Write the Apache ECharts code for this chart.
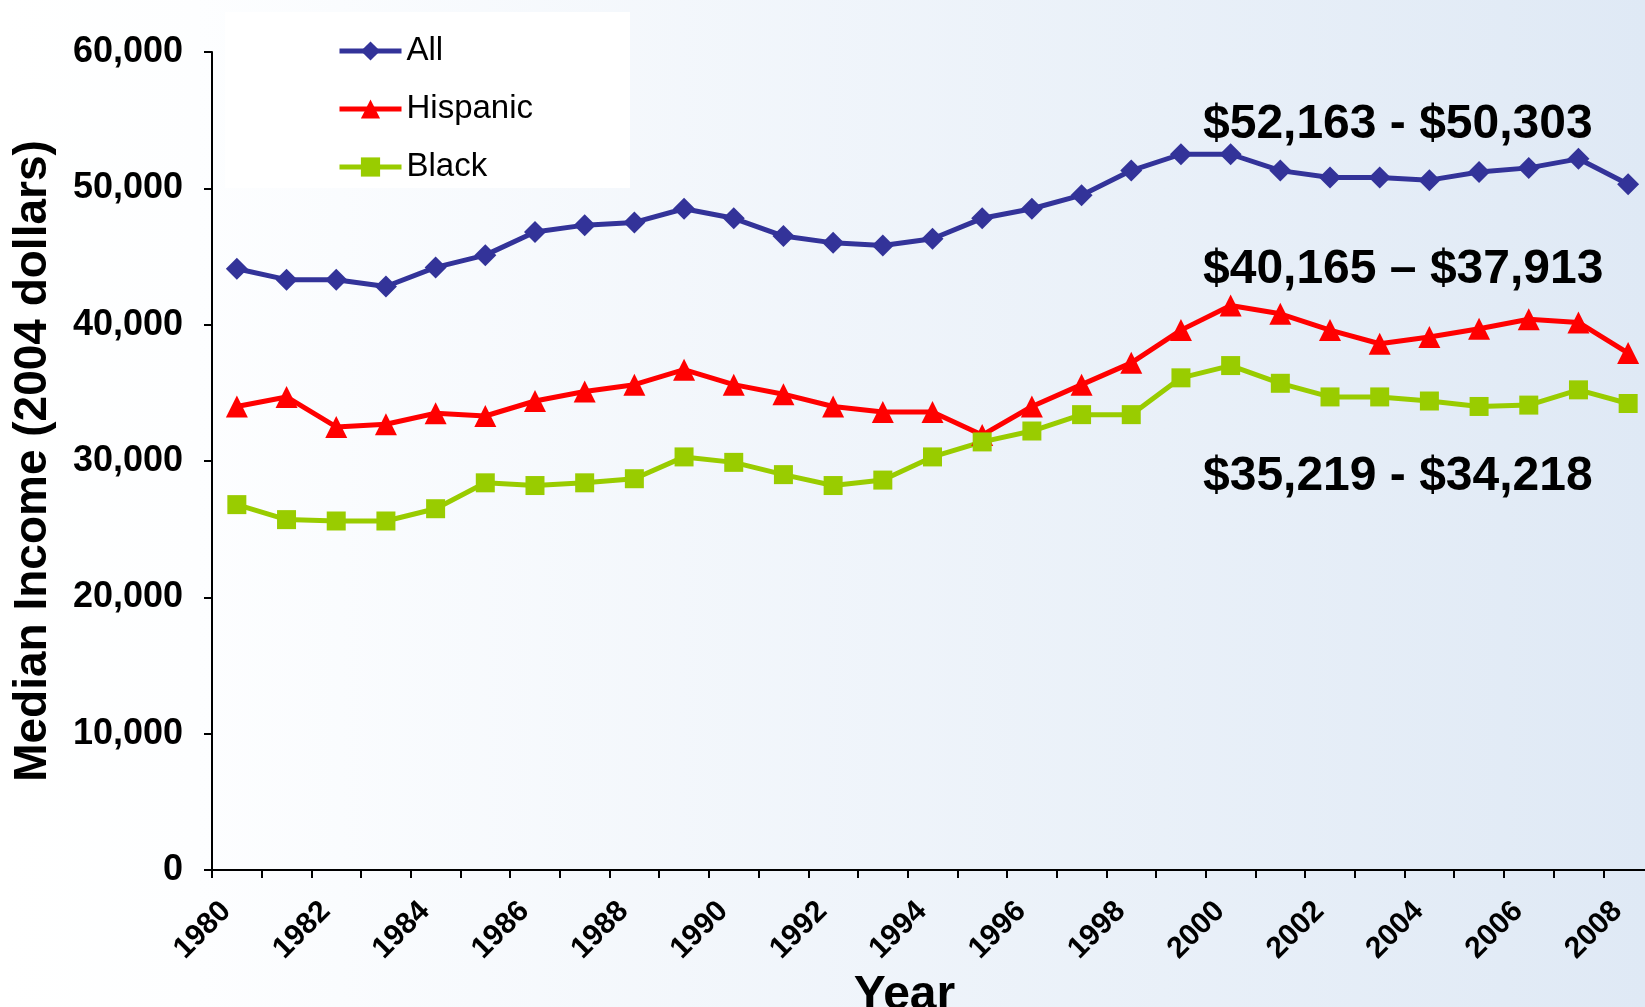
<!DOCTYPE html>
<html>
<head>
<meta charset="utf-8">
<script src="https://cdn.jsdelivr.net/npm/echarts@6/dist/echarts.min.js"></script>
<style>
  html, body { margin: 0; padding: 0; }
  #chart { width: 1645px; height: 1007px; }
</style>
</head>
<body>
<div id="chart"></div>
<script>
// years on the x axis
const years = []
for (let y = 1980; y <= 2008; y++) years.push(String(y))

// median income, 2004 dollars
const allIncome = [44100, 43300, 43300, 42800, 44200, 45100, 46800, 47300, 47500, 48500,
  47800, 46500, 46000, 45800, 46300, 47800, 48500, 49500, 51300, 52500,
  52500, 51300, 50800, 50800, 50600, 51200, 51500, 52163, 50303]
const hispanicIncome = [34000, 34700, 32500, 32700, 33500, 33300, 34400, 35100, 35600, 36700,
  35600, 34900, 34000, 33600, 33600, 31900, 34000, 35600, 37200, 39600,
  41400, 40800, 39600, 38600, 39100, 39700, 40400, 40165, 37913]
const blackIncome = [26800, 25700, 25600, 25600, 26500, 28400, 28200, 28400, 28700, 30300,
  29900, 29000, 28200, 28600, 30300, 31400, 32200, 33400, 33400, 36100,
  37000, 35700, 34700, 34700, 34400, 34000, 34100, 35219, 34218]

// text notes on the right
const notes = ['$52,163 - $50,303', '$40,165 \u2013 $37,913', '$35,219 - $34,218']

const font = '"Liberation Sans", Arial, sans-serif'

const myChart = echarts.init(document.getElementById('chart'))

function lineSeries(name, data, color, symbol, size) {
  return {
    name: name,
    type: 'line',
    data: data,
    symbol: symbol,
    symbolSize: size,
    lineStyle: { color: color, width: 5 },
    itemStyle: { color: color },
    z: 3,
  }
}

myChart.setOption({
  animation: false,
  backgroundColor: {
    type: 'linear', x: 0, y: 0, x2: 1, y2: 0,
    colorStops: [
      { offset: 0, color: '#ffffff' },
      { offset: 0.12, color: '#fdfeff' },
      { offset: 1, color: '#dfe9f5' },
    ],
  },
  grid: { left: 212, top: 52, width: 1441, height: 818, outerBoundsMode: 'none', containLabel: false },
  legend: {
    orient: 'vertical',
    left: 332,
    top: 28,
    itemWidth: 62,
    itemHeight: 24,
    itemGap: 22,
    lineStyle: { width: 5 },
    textStyle: { fontFamily: font, fontSize: 33, color: '#000', lineHeight: 36 },
    data: ['All', 'Hispanic', 'Black'],
  },
  graphic: [
    { type: 'rect', left: 225, top: 12, z: 0, shape: { width: 405, height: 176 }, style: { fill: '#ffffff' } },
    { type: 'text', left: 1203, top: 101, z: 5, style: { text: notes[0], font: 'bold 48px ' + font, fill: '#000' } },
    { type: 'text', left: 1203, top: 246, z: 5, style: { text: notes[1], font: 'bold 48px ' + font, fill: '#000' } },
    { type: 'text', left: 1203, top: 453, z: 5, style: { text: notes[2], font: 'bold 48px ' + font, fill: '#000' } },
  ],
  xAxis: {
    type: 'category',
    data: years,
    boundaryGap: true,
    name: 'Year',
    nameLocation: 'middle',
    nameGap: 94,
    nameTextStyle: { fontFamily: font, fontSize: 48, fontWeight: 'bold', color: '#000', padding: [0, 56, 0, 0] },
    axisLine: { lineStyle: { color: '#000', width: 2 } },
    axisTick: { show: true, interval: 0, length: 8, lineStyle: { color: '#000', width: 2 } },
    axisLabel: {
      interval: 1,
      rotate: 45,
      margin: 26,
      padding: [0, 15, 0, 0],
      fontFamily: font,
      fontSize: 30,
      fontWeight: 'bold',
      color: '#000',
    },
    splitLine: { show: false },
  },
  yAxis: {
    type: 'value',
    min: 0,
    max: 60000,
    interval: 10000,
    name: 'Median Income (2004 dollars)',
    nameLocation: 'middle',
    nameGap: 156,
    nameTextStyle: { fontFamily: font, fontSize: 46, fontWeight: 'bold', color: '#000' },
    axisLine: { show: true, lineStyle: { color: '#000', width: 2 } },
    axisTick: { show: true, length: 8, lineStyle: { color: '#000', width: 2 } },
    axisLabel: {
      margin: 29,
      fontFamily: font,
      fontSize: 36,
      fontWeight: 'bold',
      color: '#000',
      formatter: (v) => v.toLocaleString('en-US'),
    },
    splitLine: { show: false },
  },
  series: [
    lineSeries('All', allIncome, '#333399', 'diamond', 22),
    lineSeries('Hispanic', hispanicIncome, '#ff0000', 'triangle', 22),
    lineSeries('Black', blackIncome, '#99cc00', 'rect', 19),
  ],
})
</script>
</body>
</html>
